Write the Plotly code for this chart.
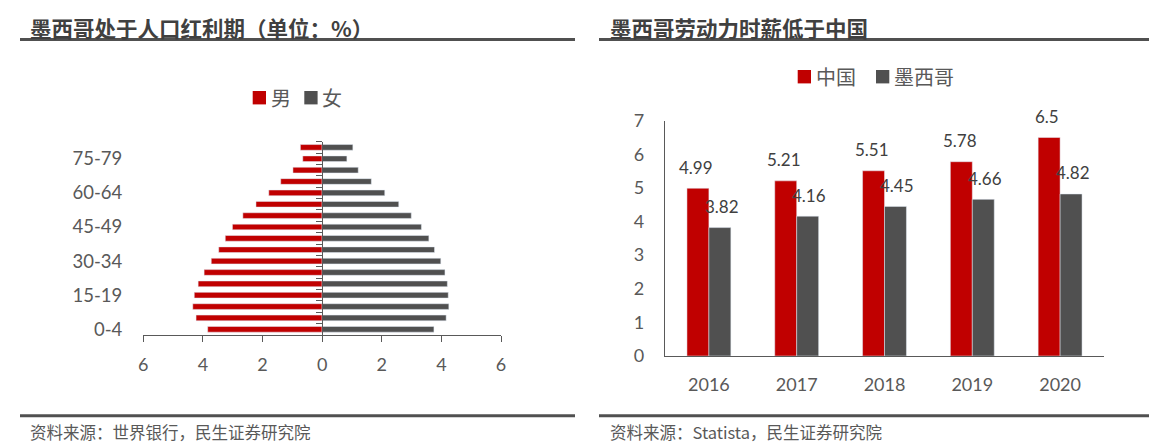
import plotly.graph_objects as go

W, H = 1171, 447
def px(x): return x / W
def py(y): return 1 - y / H

# ---------------- data ----------------
age_groups = ["0-4", "5-9", "10-14", "15-19", "20-24", "25-29", "30-34", "35-39",
              "40-44", "45-49", "50-54", "55-59", "60-64", "65-69", "70-74", "75-79", "80+"]
male = [3.84, 4.23, 4.34, 4.29, 4.16, 3.96, 3.72, 3.47, 3.25, 3.01, 2.66, 2.22,
        1.79, 1.39, 0.98, 0.65, 0.73]
female = [3.75, 4.16, 4.25, 4.23, 4.20, 4.12, 3.98, 3.77, 3.58, 3.33, 2.99, 2.57,
          2.10, 1.65, 1.21, 0.83, 1.03]
pyr_ticks = [-6, -4, -2, 0, 2, 4, 6]
pyr_ticktext = ["6", "4", "2", "0", "2", "4", "6"]

years = ["2016", "2017", "2018", "2019", "2020"]
china = [4.99, 5.21, 5.51, 5.78, 6.5]
mexico = [3.82, 4.16, 4.45, 4.66, 4.82]

RED = "#C00000"
GREY = "#505050"
AXIS = "#595959"
TXT = "#595959"
NUM_FONT = "Lato, 'Open Sans', sans-serif"
CJK = "'Noto Sans CJK SC', sans-serif"

fig = go.Figure()

# ---------------- left: population pyramid ----------------
fig.add_trace(go.Bar(y=age_groups, x=[-v for v in male], orientation="h", name="男",
                     marker_color=RED, xaxis="x", yaxis="y", hoverinfo="skip"))
fig.add_trace(go.Bar(y=age_groups, x=female, orientation="h", name="女",
                     marker_color=GREY, xaxis="x", yaxis="y", hoverinfo="skip"))
fig.add_trace(go.Scatter(x=[None], y=[None], xaxis="x", yaxis="y3", showlegend=False,
                         hoverinfo="skip"))

# ---------------- right: bars ----------------
fig.add_trace(go.Bar(x=years, y=china, name="中国", marker_color=RED, offsetgroup="cn",
                     xaxis="x2", yaxis="y2", hoverinfo="skip"))
fig.add_trace(go.Bar(x=years, y=mexico, name="墨西哥", marker_color=GREY, offsetgroup="mx",
                     xaxis="x2", yaxis="y2", hoverinfo="skip"))

BARGAP = 0.42
off = (1 - BARGAP) / 4
annotations = []
for i, (c, m) in enumerate(zip(china, mexico)):
    for val, dx in ((c, -off), (m, off)):
        annotations.append(dict(x=i + dx, y=val, xref="x2", yref="y2", text=f"{val:g}",
                                showarrow=False, yanchor="middle", yshift=21,
                                font=dict(family=NUM_FONT, size=17, color="#404040")))

lx0, lx1 = px(143.3), px(501)
rx0, rx1 = px(665), px(1104)

for x, t in ((28, "墨西哥处于人口红利期（单位：%）"), (608, "墨西哥劳动力时薪低于中国")):
    annotations.append(dict(x=px(x), y=py(27), xref="paper", yref="paper", text=f"<b>{t}</b>",
                            showarrow=False, xanchor="left", yanchor="middle",
                            font=dict(family=CJK, size=21.5, color="#404040")))
for x, t in ((28, "资料来源：世界银行，民生证券研究院"), (608, "资料来源：Statista，民生证券研究院")):
    annotations.append(dict(x=px(x), y=py(431.5), xref="paper", yref="paper", text=t,
                            showarrow=False, xanchor="left", yanchor="middle",
                            font=dict(family=CJK, size=16.5, color=TXT)))

shapes = []
for (a, b) in ((20, 575), (599, 1149)):
    for yy in (39.5, 415.7):
        shapes.append(dict(type="line", xref="paper", yref="paper", x0=px(a), x1=px(b),
                           y0=py(yy), y1=py(yy), line=dict(color="#505050", width=3)))

# legend keys (square + label) for both panels, names taken from the traces
legend_items = [
    (fig.data[0], 252.7, 97.7), (fig.data[1], 304.3, 97.7),
    (fig.data[3], 797.7, 76.7), (fig.data[4], 876.0, 76.7),
]
for tr, x, yc in legend_items:
    shapes.append(dict(type="rect", xref="paper", yref="paper", x0=px(x), x1=px(x + 13.3),
                       y0=py(yc + 6.7), y1=py(yc - 6.7), fillcolor=tr.marker.color,
                       line=dict(width=0)))
    annotations.append(dict(x=px(x + 16), y=py(yc), xref="paper", yref="paper", text=tr.name,
                            showarrow=False, xanchor="left", yanchor="middle",
                            font=dict(family=CJK, size=20, color=TXT)))

axis_font = dict(family=NUM_FONT, size=18, color=TXT)

fig.update_layout(
    width=W, height=H, margin=dict(l=0, r=0, t=0, b=0, pad=0, autoexpand=False),
    paper_bgcolor="white", plot_bgcolor="white",
    barmode="relative", bargap=0.5,
    showlegend=False,
    xaxis=dict(domain=[lx0, lx1], range=[-6, 6], tickvals=pyr_ticks, ticktext=pyr_ticktext,
               showgrid=False, zeroline=False, showline=True, linecolor=AXIS, linewidth=1.3,
               ticks="outside", ticklen=6, tickcolor=AXIS, tickfont=axis_font,
               ticklabelstandoff=7, anchor="y", fixedrange=True, automargin=False),
    yaxis=dict(domain=[py(335), py(141.7)], type="category", categoryorder="array",
               categoryarray=age_groups, range=[-0.5, 16.5],
               tickvals=[age_groups[i] for i in range(0, 17, 3)],
               showgrid=False, zeroline=False, showline=False, ticks="",
               tickfont=dict(family=NUM_FONT, size=18.5, color=TXT),
               ticklabelstandoff=20, anchor="x", fixedrange=True, automargin=False),
    yaxis3=dict(overlaying="y", type="linear", range=[-0.5, 16.5], anchor="free",
                position=(lx0 + lx1) / 2, side="left", showline=True, linecolor=AXIS,
                linewidth=1.3, ticks="outside", ticklen=6, tickcolor=AXIS,
                tickvals=[k - 0.5 for k in range(18)], showticklabels=False,
                showgrid=False, zeroline=False, fixedrange=True, automargin=False),
    xaxis2=dict(domain=[rx0, rx1], type="category", anchor="y2", showgrid=False,
                zeroline=False, showline=True, linecolor=AXIS, linewidth=1.3, ticks="",
                tickfont=axis_font, ticklabelstandoff=12, fixedrange=True, automargin=False),
    yaxis2=dict(domain=[py(356), py(120.7)], range=[0, 7], dtick=1, anchor="x2",
                showgrid=False, zeroline=False, showline=True, linecolor=AXIS,
                linewidth=1.3, ticks="", tickfont=axis_font, ticklabelstandoff=16,
                fixedrange=True, automargin=False),
    annotations=annotations, shapes=shapes,
)

fig.write_html("out.html", config={"displayModeBar": False, "staticPlot": True},
               post_script="document.body.style.margin='0';")
